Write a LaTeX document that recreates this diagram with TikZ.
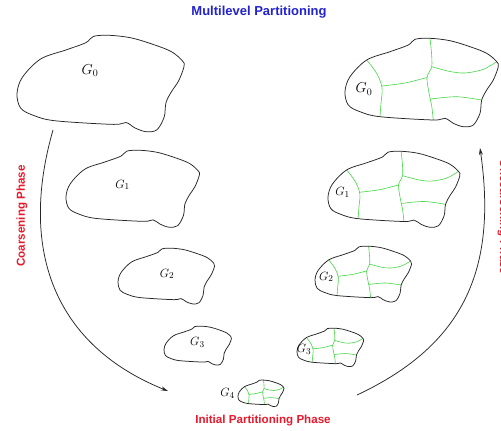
\documentclass[tikz,border=0pt]{standalone}
\usepackage{fontspec}
\setsansfont{Liberation Sans}
\usetikzlibrary{arrows.meta}
\definecolor{titleblue}{RGB}{35,35,205}
\definecolor{phasered}{RGB}{230,25,45}
\definecolor{partgreen}{RGB}{70,215,70}
\newcommand\outlinepath{plot[smooth cycle, tension=0.55] coordinates {(0,53.7) (5,38.7) (21.7,22) (45,13.7) (63.3,7) (70,1.3) (85,0.3) (105,2.7) (125,8.7) (141.7,15.3) (151.7,23.7) (153.3,28.7) (148.3,42) (141.7,52) (136.7,62) (135,75.3) (128.3,87) (118.3,88.7) (108.3,85.3) (100,80.3) (88.3,82) (35,78.7) (15,73.7) (3.3,67)}}
\newcommand\partlines{%
 plot[smooth, tension=0.6] coordinates {(21.7,22) (32,36) (37,50) (36,65) (35,78.7)}
 plot[smooth] coordinates {(36.8,48) (60,45) (82,39.5)}
 plot[smooth] coordinates {(85,0.3) (86.5,15) (86.7,28.7) (82,39.5) (84,55) (86.7,68) (88.3,82)}
 plot[smooth] coordinates {(86.7,28.7) (105,33.5) (120,35) (138,31.5) (151.7,23.7)}
 plot[smooth] coordinates {(85.5,61) (111.7,58.7) (136.7,62)}}
% #1 name, #2 shift, #3 scale, #4 label pos, #5 label, #6 font size
\newcommand\coarsegraph[6]{%
 \begin{scope}[shift={#2}]\begin{scope}[scale=#3]
  \draw[outl] \outlinepath;
  \node[glabel,font=\fontsize{#6}{#6}\selectfont] (#1) at #4 {#5};
 \end{scope}\end{scope}}
\newcommand\finegraph[6]{%
 \begin{scope}[shift={#2}]\begin{scope}[scale=#3]
  \draw[part] \partlines;
  \draw[outl] \outlinepath;
  \node[glabel,font=\fontsize{#6}{#6}\selectfont] (#1) at #4 {#5};
 \end{scope}\end{scope}}
\begin{document}
\begin{tikzpicture}[x=1pt,y=-1pt,
  outl/.style={draw=black!85,line width=0.75pt},
  part/.style={draw=partgreen,line width=0.6pt},
  glabel/.style={inner sep=0pt},
  titletext/.style={font=\sffamily\bfseries\fontsize{13}{15}\selectfont,text=titleblue,inner sep=0pt},
  phasetext/.style={font=\sffamily\bfseries\fontsize{11.6}{13}\selectfont,text=phasered,inner sep=0pt},
  phasearrow/.style={draw=black!85,line width=0.75pt,-{Stealth[length=7pt,width=4pt]}}]
\fill[white] (0,0) rectangle (501,431);
\useasboundingbox (0,0) rectangle (501,431);
\node[titletext] (title) at (259,12) {Multilevel Partitioning};
% coarsening (left)
\coarsegraph{lg0}{(17,35)}{1.09}{(67,33)}{$G_0$}{14}
\coarsegraph{lg1}{(66,150)}{0.87}{(65,40)}{$G_1$}{13}
\coarsegraph{lg2}{(118,248)}{0.63}{(78,41)}{$G_2$}{12.5}
\coarsegraph{lg3}{(164,326)}{0.44}{(76,38)}{$G_3$}{12.5}
% uncoarsening (right)
\finegraph{rg0}{(345,38)}{1.0}{(19,51)}{$G_0$}{14}
\finegraph{rg1}{(328,151)}{0.86}{(17,48)}{$G_1$}{13}
\finegraph{rg2}{(315,246)}{0.63}{(18,49)}{$G_2$}{12.5}
\finegraph{rg3}{(297,328)}{0.435}{(16,50)}{$G_3$}{12.5}
\finegraph{rg4}{(238,380)}{0.3}{(-35,45)}{$G_4$}{12.5}
% phase labels
\node[phasetext,rotate=90] (coarse) at (22,216) {Coarsening Phase};
\node[phasetext] (initial) at (263,421) {Initial Partitioning Phase};
\node[phasetext,rotate=-90,anchor=base] (uncoarse) at (500,217) {Uncoarsening Phase};
% arrows
\coordinate (cstart) at (53,130);
\coordinate (cend) at (168,391);
\draw[phasearrow] (cstart) .. controls (18,252) and (56,346) .. (cend);
\coordinate (ustart) at (357,395);
\coordinate (uend) at (480,148);
\draw[phasearrow] (ustart) .. controls (466,344) and (497,267) .. (uend);
\end{tikzpicture}
\end{document}
